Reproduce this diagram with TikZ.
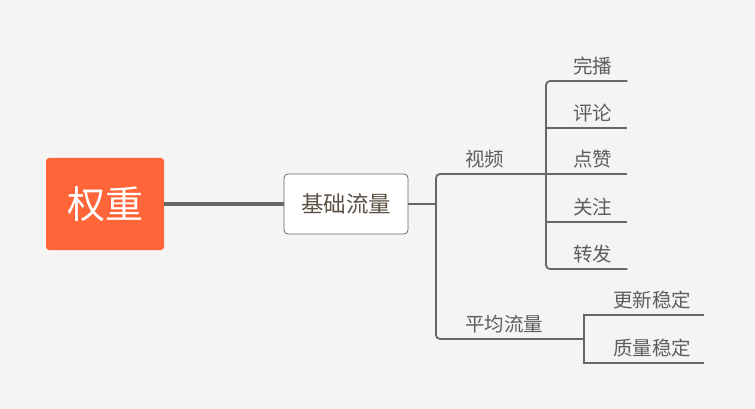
\documentclass[tikz,border=0pt]{standalone}
\usepackage{fontspec}
\setmainfont{Noto Sans CJK SC}
\usetikzlibrary{positioning}
\definecolor{bgcol}{HTML}{F4F4F4}
\definecolor{rootcol}{HTML}{FF6539}
\definecolor{linecol}{HTML}{676767}
\definecolor{leafcol}{HTML}{5E5E5E}
\definecolor{basecol}{HTML}{5C5246}
\tikzset{
    edge/.style={draw=linecol, line width=1.8pt},
    leaf/.style={anchor=south west, inner xsep=0pt, inner ysep=5.5pt,
        text=leafcol, font=\fontsize{19.5}{20}\selectfont},
}
\begin{document}
\begin{tikzpicture}[x=1pt,y=-1pt]
        \fill[bgcol] (0,0) rectangle (755,409);
        \useasboundingbox (0,0) rectangle (755,409);
        %% central topic and main branch
        \node[fill=rootcol, rounded corners=3pt, minimum width=118pt, minimum height=92pt,
            text=white, font=\fontsize{38}{40}\selectfont] (root) at (105,204) {权重};
        \node[draw=linecol, line width=0.8pt, fill=white, rounded corners=4pt,
            minimum width=124pt, minimum height=60pt, text=basecol,
            font=\fontsize{22.5}{24}\selectfont] (base) at (346,204) {基础流量};
        \draw[edge, line width=3.2pt] (root.east) -- (base.west);
        %% junctions
        \coordinate (j1) at (436,204);
        \coordinate (j2) at (546,174);
        \coordinate (j3) at (584,339);
        %% subtopics
        \node[leaf] (video) at (465,174) {视频};
        \node[leaf] (avg) at (465,339) {平均流量};
        \draw[edge] (base.east) -- (j1);
        \draw[edge, rounded corners=4pt] (j2) -- (j1 |- video.south) -- (j1 |- avg.south) -- (j3);
        %% leaves of video
        \foreach \name/\txt/\y in {wanbo/完播/81, pinglun/评论/128, dianzan/点赞/174,
                                   guanzhu/关注/222, zhuanfa/转发/269}
            \node[leaf] (\name) at (573,\y) {\txt};
        \draw[edge, rounded corners=4pt] ([xshift=15pt]wanbo.south east) -- (j2 |- wanbo.south)
            -- (j2 |- zhuanfa.south) -- ([xshift=15pt]zhuanfa.south east);
        \foreach \name in {pinglun,dianzan,guanzhu}
            \draw[edge] (j2 |- \name.south) -- ([xshift=15pt]\name.south east);
        %% leaves of average flow
        \node[leaf] (gengxin) at (613,315) {更新稳定};
        \node[leaf] (zhiliang) at (613,363) {质量稳定};
        \draw[edge] ([xshift=13pt]gengxin.south east) -- (j3 |- gengxin.south)
            -- (j3 |- zhiliang.south) -- ([xshift=13pt]zhiliang.south east);
    \end{tikzpicture}
\end{document}
